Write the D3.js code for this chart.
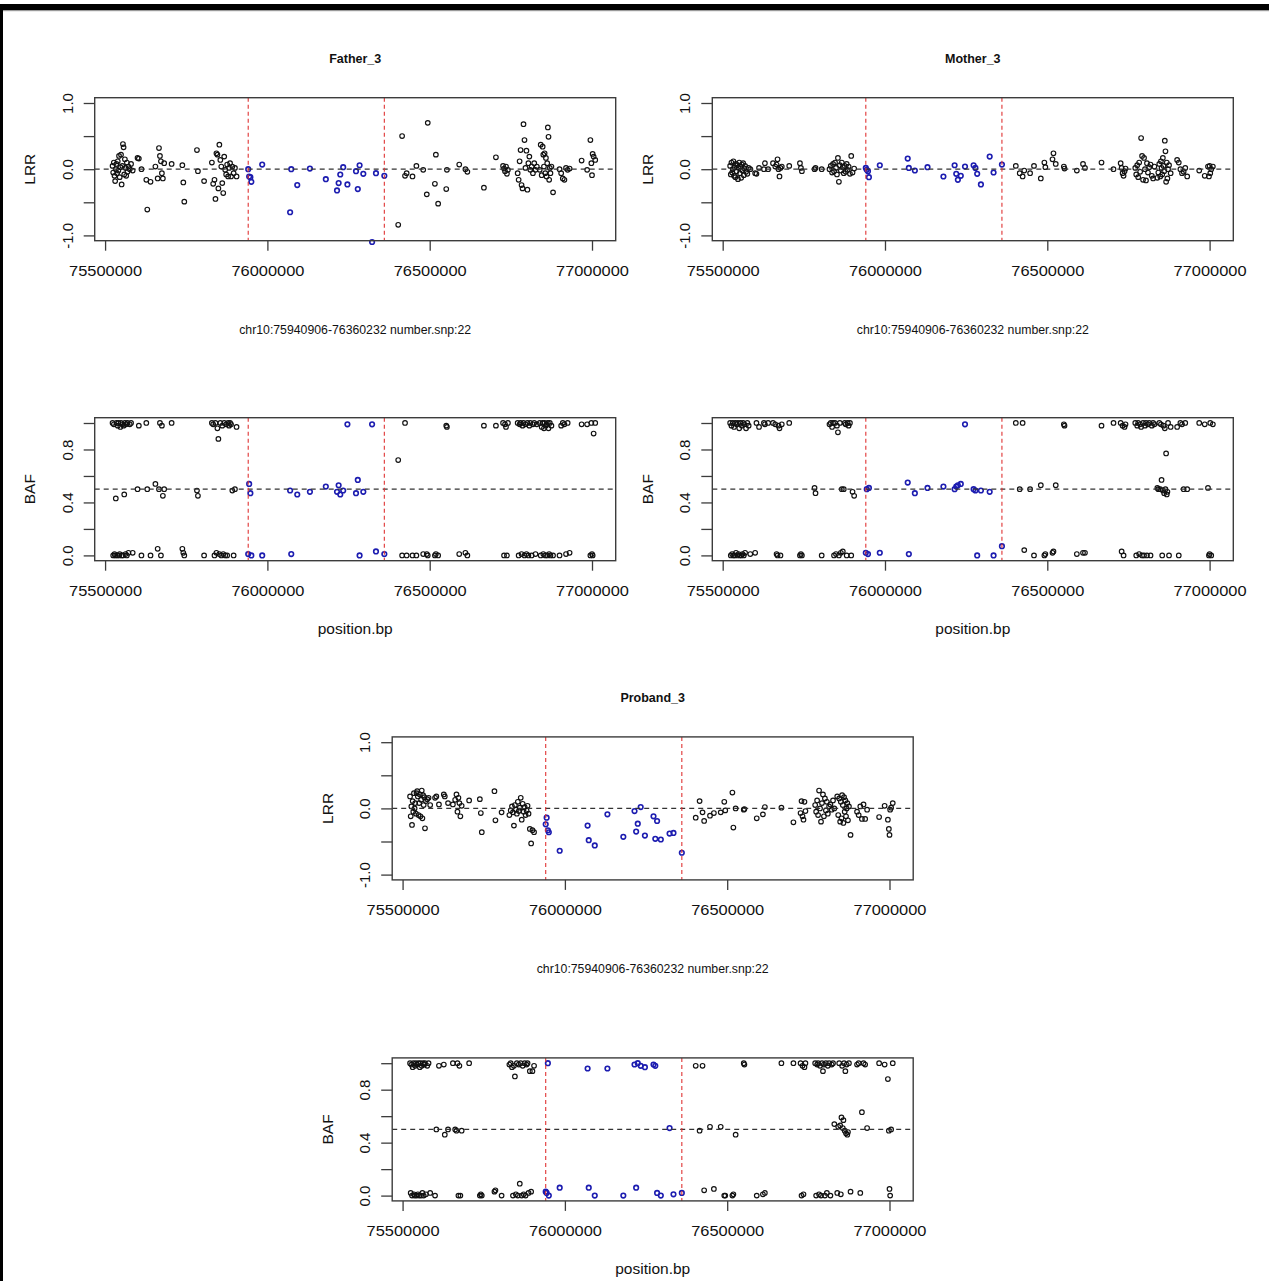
<!DOCTYPE html>
<html><head><meta charset="utf-8">
<script src="https://cdn.jsdelivr.net/npm/d3@7"></script>
<style>body{margin:0;background:#fff}svg{display:block}</style>
</head><body><svg id="c" width="1269" height="1281"></svg>
<script>
// ---------------- DATA ----------------
const regionStart = 75940906, regionEnd = 76360232;
const regionLabel = "chr10:75940906-76360232 number.snp:22";
const xTicks = [75500000, 76000000, 76500000, 77000000];
const xLimits = [75468000, 77073000];
const lrrLimits = [-1.08, 1.08];
const bafLimits = [-0.04, 1.04];
const lrrTicks = [-1, -0.5, 0, 0.5, 1];
const lrrTickLabels = ["-1.0", "", "0.0", "", "1.0"];
const bafTicks = [0, 0.2, 0.4, 0.6, 0.8, 1.0];
const bafTickLabels = ["0.0", "", "0.4", "", "0.8", ""];
const sampleNames = ["Father_3", "Mother_3", "Proband_3"];

const snpPos = [
 75523000,75525000,75527000,75529000,75531000,75533000,75535000,75537000,75539000,75541000,
 75543000,75545000,75547000,75549000,75551000,75553000,75555000,75557000,75559000,75561000,
 75563000,75565000,75567000,75569000,75572000,75576000,75580000,75585000,
 75600000,75604000,75612000,
 75627000,75630000,75640000,
 75655000,75662000,75666000,75669000,75672000,75675000,75678000,75682000,
 75705000,
 75738000,75741000,75744000,
 75783000,75786000,
 75805000,
 75829000,75833000,75837000,75840000,75843000,75846000,75849000,75852000,75855000,75858000,
 75861000,75864000,75867000,75870000,75873000,75876000,75879000,75882000,75885000,75888000,
 75892000,75896000,75900000,75905000,
 75940906,75943800,75947600,75950500,75984000,76070000,76073500,76092000,76131000,76180000,
 76214500,76219500,76224500,76233500,76246500,76273000,76278500,76284000,76295500,76322500,
 76334500,76360232,
 76403000,76415000,76424000,76429000,76447000,76459000,76480000,76491000,76494000,76516000,
 76519000,76526000,76551000,76553000,76591000,76610000,76616000,76667000,76704000,
 76726000,76729000,76732000,76735000,76738000,76741000,
 76771000,76774000,76777000,76780000,76783000,76786000,76789000,76792000,76795000,76798000,
 76801000,76804000,76807000,76810000,76814000,76818000,76822000,76826000,76830000,
 76839000,76842000,76845000,76848000,76850000,76852000,76854000,76856000,76858000,76860000,
 76862000,76864000,76866000,76868000,76870000,76872000,76875000,76880000,
 76900000,76905000,76910000,76915000,76920000,76925000,76931000,
 76968000,76985000,76995000,76998000,77000000,77002000,77005000,77010000
];

const fatherLRR = [
 0.05,-0.05,0.1,-0.1,-0.18,0.0,0.08,-0.06,0.12,-0.02,0.2,-0.12,0.03,0.22,-0.23,0.05,0.38,0.33,-0.08,0.15,0.02,-0.1,0.1,-0.04,0.04,0.0,0.08,-0.02,
 0.17,0.16,0.0,
 -0.16,-0.61,-0.19,
 0.04,-0.14,0.32,0.2,0.12,-0.06,-0.14,0.09,
 0.08,
 0.06,-0.2,-0.49,
 0.29,-0.03,
 -0.18,
 0.1,-0.22,-0.16,-0.45,0.24,0.22,-0.29,0.37,0.14,0.04,-0.21,-0.36,0.19,-0.01,-0.08,0.07,-0.11,0.02,0.09,-0.11,0.04,-0.06,0.02,-0.11,
 0.0,-0.11,-0.12,-0.19,0.07,-0.65,0.0,-0.24,0.01,-0.15,-0.32,-0.21,-0.08,0.03,-0.23,-0.03,-0.3,0.06,-0.07,-1.1,-0.06,-0.1,
 -0.84,0.5,-0.1,-0.06,-0.11,0.05,-0.01,-0.38,0.7,-0.22,0.22,-0.52,-0.3,-0.01,0.07,0.0,-0.04,-0.28,0.18,
 0.05,0.01,-0.03,0.04,-0.07,-0.01,
 -0.06,-0.16,0.12,0.29,-0.24,-0.29,0.68,0.44,0.02,0.28,-0.31,0.09,0.19,-0.01,0.04,-0.06,0.09,-0.01,0.04,
 -0.01,0.37,-0.09,0.34,0.22,0.04,0.24,-0.06,0.17,-0.11,0.09,0.63,0.49,-0.16,0.02,-0.06,0.04,-0.35,
 0.0,-0.06,-0.14,-0.16,0.02,-0.01,0.01,
 0.13,-0.01,0.44,0.09,-0.09,0.23,0.19,0.14
];
const fatherBAF = [
 1.0,0.0,0.99,0.01,0.0,0.43,1.0,0.0,0.98,1.0,0.0,0.01,0.97,1.0,0.0,0.99,0.0,0.98,0.46,1.0,0.01,0.99,0.0,1.0,0.02,0.99,1.0,0.02,
 0.5,0.98,0.0,
 1.0,0.5,0.0,
 0.54,0.05,0.5,1.0,0.0,0.98,0.45,0.5,
 1.0,
 0.05,0.02,0.0,
 0.49,0.45,
 0.0,
 1.0,0.99,0.0,1.0,0.02,0.96,0.88,0.01,1.0,0.0,0.98,0.01,1.0,0.0,0.99,0.0,1.0,0.98,1.0,0.99,0.49,0.0,0.5,0.97,
 0.01,0.54,0.47,0.0,0.0,0.49,0.01,0.46,0.48,0.52,0.48,0.53,0.46,0.49,0.99,0.47,0.57,0.0,0.48,0.99,0.03,0.01,
 0.72,0.0,1.0,0.0,0.0,0.0,0.01,0.01,0.0,0.0,0.01,0.0,0.98,0.97,0.01,0.02,0.0,0.98,0.98,
 1.0,0.0,0.99,0.97,0.0,1.0,
 1.0,0.0,0.99,1.0,0.01,0.98,1.0,0.0,0.99,0.01,1.0,0.0,0.98,1.0,0.0,0.99,1.0,0.01,0.99,
 1.0,0.0,0.97,1.0,0.01,0.96,1.0,0.0,0.98,0.99,0.0,1.0,0.96,0.01,1.0,0.0,0.98,0.0,
 0.0,0.98,1.0,0.99,0.01,1.0,0.02,
 0.99,0.99,0.0,1.0,0.01,0.0,0.92,1.0
];
const motherLRR = [
 0.05,-0.08,0.1,-0.05,0.0,0.12,-0.1,0.03,-0.12,0.08,-0.03,0.06,-0.15,0.02,0.1,-0.06,0.04,-0.13,0.07,-0.02,0.09,-0.09,0.01,0.05,-0.04,-0.07,0.02,0.0,
 -0.06,-0.07,0.02,
 0.0,0.09,0.0,
 0.09,0.04,0.07,0.15,0.0,-0.11,0.02,0.04,
 0.05,
 0.09,0.02,-0.03,
 0.0,0.02,
 0.0,
 0.0,0.05,-0.05,0.08,-0.03,0.1,0.02,-0.08,0.17,-0.19,0.06,-0.02,0.1,0.03,-0.06,0.05,-0.04,0.08,-0.01,0.04,-0.07,0.2,-0.05,0.01,
 0.02,-0.01,-0.03,-0.12,0.06,0.16,0.02,-0.02,0.03,-0.11,0.06,-0.07,-0.16,-0.1,0.04,0.06,0.02,-0.07,-0.23,0.19,-0.05,0.07,
 0.05,-0.06,-0.11,-0.02,-0.06,0.05,-0.14,0.1,0.03,0.15,0.24,0.08,0.04,0.01,-0.02,0.08,0.02,0.1,0.0,
 0.09,0.02,-0.06,-0.1,-0.03,0.01,
 0.02,-0.08,0.06,-0.12,0.1,-0.04,0.47,0.2,-0.16,0.17,0.0,-0.17,0.09,-0.05,0.03,0.07,-0.1,-0.14,0.04,
 -0.13,-0.05,0.08,-0.11,0.12,0.02,-0.08,0.17,0.05,-0.03,0.43,0.27,-0.19,0.1,-0.14,0.0,0.06,-0.06,
 0.14,0.1,0.0,-0.06,-0.04,0.02,-0.11,
 -0.02,-0.1,0.04,-0.11,0.05,-0.06,0.0,0.04
];
const motherBAF = [
 1.0,0.0,0.98,0.01,1.0,0.0,0.97,0.0,1.0,0.02,0.99,0.0,1.0,0.01,0.96,0.0,1.0,0.0,0.98,0.01,1.0,0.0,0.99,0.02,0.96,1.0,0.98,0.01,
 0.02,1.0,0.97,
 1.0,0.99,1.0,
 1.0,0.99,0.01,0.0,0.98,0.96,0.0,0.99,
 1.0,
 0.0,0.01,0.0,
 0.51,0.47,
 0.0,
 0.99,1.0,0.97,1.0,0.0,1.0,0.01,0.98,0.93,0.0,1.0,0.02,0.5,0.03,0.5,1.0,0.99,0.0,1.0,0.98,1.0,0.0,0.48,0.45,
 0.02,0.5,0.01,0.51,0.02,0.55,0.01,0.47,0.51,0.52,0.5,0.52,0.53,0.54,0.99,0.5,0.49,0.0,0.49,0.48,0.0,0.07,
 1.0,0.5,1.0,0.04,0.5,0.0,0.53,0.0,0.01,0.02,0.03,0.53,0.99,0.98,0.01,0.02,0.02,0.98,1.0,
 1.0,0.03,0.98,0.0,0.97,0.99,
 1.0,0.0,0.98,1.0,0.01,0.99,0.97,0.0,1.0,0.0,0.98,1.0,0.0,0.99,1.0,0.0,0.98,1.0,0.99,
 0.51,0.5,1.0,0.5,0.99,0.57,0.0,0.49,0.98,0.47,0.96,0.5,0.77,0.46,0.48,1.0,0.0,0.97,
 0.97,0.0,1.0,0.99,0.5,1.0,0.5,
 1.0,0.99,0.51,0.0,0.01,1.0,0.0,0.99
];
const probandLRR = [
 0.18,-0.12,0.03,-0.25,0.11,-0.05,0.23,0.0,0.08,-0.08,0.23,0.26,0.18,-0.1,0.08,0.21,-0.12,0.13,0.27,-0.15,0.2,0.05,0.17,-0.3,0.11,0.14,0.16,0.05,
 0.16,0.18,0.06,
 0.21,0.18,0.08,
 0.06,0.13,0.21,-0.05,0.16,0.08,-0.12,0.04,
 0.12,
 0.14,-0.07,-0.36,
 0.26,-0.18,
 -0.06,
 -0.1,-0.03,0.03,-0.06,-0.26,0.05,-0.02,-0.08,0.1,-0.04,0.01,0.16,-0.17,0.07,-0.05,0.02,-0.1,-0.03,0.04,-0.08,-0.31,-0.53,-0.33,-0.36,
 -0.24,-0.14,-0.33,-0.36,-0.64,-0.26,-0.48,-0.56,-0.09,-0.43,-0.04,-0.35,-0.23,0.02,-0.41,-0.12,-0.46,-0.19,-0.47,-0.38,-0.37,-0.67,
 -0.14,0.11,-0.06,-0.19,-0.11,-0.07,-0.06,0.1,-0.03,0.24,-0.29,0.0,-0.02,-0.01,-0.15,-0.09,0.02,0.01,-0.21,
 -0.07,0.11,-0.12,-0.17,0.1,-0.04,
 0.05,-0.05,0.12,-0.1,0.27,0.0,-0.2,0.08,0.21,-0.12,0.15,-0.03,0.1,-0.08,0.03,0.06,-0.02,0.12,0.0,
 0.18,-0.1,0.15,-0.2,0.1,-0.15,0.2,0.05,-0.22,0.17,-0.05,0.12,-0.12,0.0,0.08,-0.18,0.03,-0.4,
 -0.05,-0.1,0.03,-0.16,0.06,-0.16,-0.02,
 -0.13,0.04,-0.17,-0.31,-0.4,-0.02,0.01,0.08
];
const probandBAF = [
 1.0,0.02,0.99,0.0,0.97,1.0,0.01,0.0,0.98,1.0,0.0,0.99,0.01,1.0,0.0,0.97,1.0,0.0,0.98,0.02,1.0,0.0,0.99,1.0,0.01,0.98,1.0,0.02,
 0.0,0.5,0.98,
 0.99,0.46,0.5,
 1.0,0.5,0.49,1.0,0.0,0.98,0.0,0.49,
 1.0,
 0.0,0.01,0.0,
 0.03,0.04,
 0.0,
 0.99,1.0,0.97,0.0,0.98,0.9,0.01,1.0,0.0,0.99,0.09,1.0,0.0,0.98,0.01,1.0,0.0,0.99,1.0,0.02,0.94,0.03,0.94,0.98,
 0.03,0.02,1.0,0.0,0.06,0.96,0.06,0.0,0.96,0.0,0.99,0.06,1.0,0.98,0.97,0.99,0.98,0.02,0.0,0.51,0.01,0.02,
 0.98,0.49,0.98,0.04,0.52,0.05,0.52,0.0,0.0,0.0,0.01,0.46,1.0,0.99,0.0,0.01,0.02,1.0,1.0,
 1.0,0.0,0.98,0.01,0.97,1.0,
 1.0,0.0,0.99,1.0,0.01,0.98,0.0,1.0,0.94,0.99,0.0,1.0,0.02,0.98,1.0,0.0,0.99,1.0,0.54,
 0.02,0.52,1.0,0.53,0.01,0.59,0.98,0.51,0.57,1.0,0.49,0.94,0.47,0.99,0.46,0.48,1.0,0.03,
 0.99,1.0,0.02,0.63,1.0,0.99,0.51,
 1.0,0.99,0.88,0.49,0.05,0.0,0.5,1.0
];

// ---------------- LAYOUT ----------------
const BOX_W = 521, BOX_H = 143;
const FONT = "'Liberation Sans', Arial, Helvetica, sans-serif";
const panels = [
  {name: sampleNames[0], lrr: fatherLRR, baf: fatherBAF, x: 94.7, yL: 97.7, yB: 417.7},
  {name: sampleNames[1], lrr: motherLRR, baf: motherBAF, x: 712.3, yL: 97.7, yB: 417.7},
  {name: sampleNames[2], lrr: probandLRR, baf: probandBAF, x: 392.2, yL: 736.9, yB: 1057.9}
];

const svg = d3.select("#c");
svg.append("rect").attr("width", 1269).attr("height", 1281).attr("fill", "#fff");
// outer frame remnants
svg.append("rect").attr("x", 0).attr("y", 4).attr("width", 1269).attr("height", 6).attr("fill", "#000");
svg.append("rect").attr("x", 0).attr("y", 10).attr("width", 1269).attr("height", 1.2).attr("fill", "#9a9a9a");
svg.append("rect").attr("x", 0).attr("y", 10).attr("width", 3).attr("height", 1271).attr("fill", "#000");

function drawPlot(boxX, boxY, values, yLim, ticks, tickLabels, refVal, yTitle) {
  const g = svg.append("g");
  const x = d3.scaleLinear().domain(xLimits).range([boxX, boxX + BOX_W]);
  const y = d3.scaleLinear().domain(yLim).range([boxY + BOX_H, boxY]);
  const data = snpPos.map((p, i) => ({p: p, v: values[i]}))
    .filter(d => d.v !== undefined);
  const inRegion = d => d.p >= regionStart && d.p <= regionEnd;

  // points: outside region black, inside region blue
  g.append("g").selectAll("circle").data(data.filter(d => !inRegion(d))).join("circle")
    .attr("cx", d => x(d.p)).attr("cy", d => y(d.v)).attr("r", 2.3)
    .attr("fill", "none").attr("stroke", "#111").attr("stroke-width", 1.15);
  g.append("g").selectAll("circle").data(data.filter(inRegion)).join("circle")
    .attr("cx", d => x(d.p)).attr("cy", d => y(d.v)).attr("r", 2.3)
    .attr("fill", "none").attr("stroke", "#1c1cb0").attr("stroke-width", 1.6);

  // reference lines
  g.append("line").attr("x1", boxX).attr("x2", boxX + BOX_W)
    .attr("y1", y(refVal)).attr("y2", y(refVal))
    .attr("stroke", "#333").attr("stroke-width", 1.3).attr("stroke-dasharray", "5,4");
  [regionStart, regionEnd].forEach(b => {
    g.append("line").attr("x1", x(b)).attr("x2", x(b))
      .attr("y1", boxY).attr("y2", boxY + BOX_H)
      .attr("stroke", "#e03434").attr("stroke-width", 1.1).attr("stroke-dasharray", "4,3");
  });

  // box
  g.append("rect").attr("x", boxX).attr("y", boxY).attr("width", BOX_W).attr("height", BOX_H)
    .attr("fill", "none").attr("stroke", "#3c3c3c").attr("stroke-width", 1.4);

  // x axis
  const xa = g.append("g").attr("transform", `translate(0,${boxY + BOX_H})`)
    .call(d3.axisBottom(x).tickValues(xTicks).tickFormat(d3.format("d")).tickSize(10).tickSizeOuter(0).tickPadding(14.9));
  xa.select(".domain").remove();
  xa.selectAll(".tick line").attr("stroke", "#3c3c3c").attr("stroke-width", 1.3);
  xa.selectAll(".tick text").attr("font-family", FONT).attr("font-size", 15).attr("fill", "#111")
    .attr("textLength", 73).attr("lengthAdjust", "spacingAndGlyphs");

  // y axis
  const ya = g.append("g").attr("transform", `translate(${boxX},0)`)
    .call(d3.axisLeft(y).tickValues(ticks).tickFormat((d, i) => tickLabels[i]).tickSize(11).tickSizeOuter(0));
  ya.select(".domain").remove();
  ya.selectAll(".tick line").attr("stroke", "#3c3c3c").attr("stroke-width", 1.3);
  ya.selectAll(".tick text").attr("x", null).attr("dy", null)
    .attr("text-anchor", "middle").attr("transform", "translate(-22,0) rotate(-90)")
    .attr("font-family", FONT).attr("font-size", 15).attr("fill", "#111");

  // y title
  g.append("text").attr("transform", `translate(${boxX - 59.7},${boxY + BOX_H / 2}) rotate(-90)`)
    .attr("text-anchor", "middle").attr("font-family", FONT).attr("font-size", 15.5).attr("fill", "#111")
    .text(yTitle);
  return g;
}

panels.forEach(pn => {
  const cx = pn.x + BOX_W / 2;
  // LRR plot
  drawPlot(pn.x, pn.yL, pn.lrr, lrrLimits, lrrTicks, lrrTickLabels, 0, "LRR");
  svg.append("text").attr("x", cx).attr("y", pn.yL - 34.5).attr("text-anchor", "middle")
    .attr("font-family", FONT).attr("font-weight", "bold").attr("font-size", 12.5).attr("fill", "#111")
    .text(pn.name);
  svg.append("text").attr("x", cx).attr("y", pn.yL + BOX_H + 93.5).attr("text-anchor", "middle")
    .attr("font-family", FONT).attr("font-size", 12).attr("fill", "#111")
    .attr("textLength", 232).attr("lengthAdjust", "spacingAndGlyphs")
    .text(regionLabel);
  // BAF plot
  drawPlot(pn.x, pn.yB, pn.baf, bafLimits, bafTicks, bafTickLabels, 0.5, "BAF");
  svg.append("text").attr("x", cx).attr("y", pn.yB + BOX_H + 73.5).attr("text-anchor", "middle")
    .attr("font-family", FONT).attr("font-size", 15.5).attr("fill", "#111")
    .text("position.bp");
});
</script>
</body></html>
